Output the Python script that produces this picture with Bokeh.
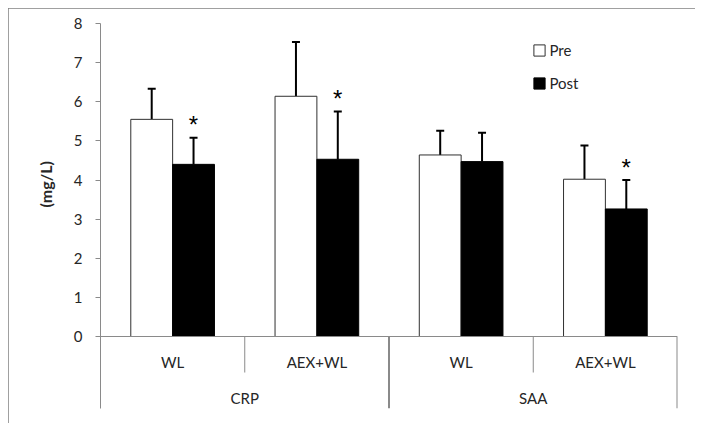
import math
from bokeh.plotting import figure
from bokeh.models import (FactorRange, Range1d, ColumnDataSource, Whisker, TeeHead,
                          Span, Legend, LegendItem, FixedTicker, Title)
from bokeh.transform import dodge
from bokeh.core.properties import value
from bokeh.embed import file_html
from bokeh.resources import INLINE

# ---- data ----
markers = ["CRP", "CRP", "SAA", "SAA"]
groups = ["WL", "AEX+WL", "WL", "AEX+WL"]
pre = [5.55, 6.14, 4.64, 4.02]
pre_sd = [0.78, 1.39, 0.62, 0.86]
post = [4.40, 4.53, 4.47, 3.26]
post_sd = [0.68, 1.22, 0.74, 0.74]
significant = [True, True, False, True]
y_ticks = [0, 1, 2, 3, 4, 5, 6, 7, 8]
y_label = "(mg/L)"
series_names = ["Pre", "Post"]

FONT = "Lato"
GRAY = "#8a8a8a"
TXT = "#262626"

cats = list(zip(markers, groups))
src = ColumnDataSource(dict(
    cat=cats, group=groups, pre=pre, post=post,
    pre_hi=[a + b for a, b in zip(pre, pre_sd)],
    post_hi=[a + b for a, b in zip(post, post_sd)],
))

y_lo = -1.84
p = figure(width=687, height=415,
           x_range=FactorRange(*cats, group_padding=0, factor_padding=0, range_padding=0),
           y_range=Range1d(y_lo, max(y_ticks)),
           output_backend="svg", toolbar_location=None,
           x_axis_location=None, min_border_left=92, min_border_right=18,
           min_border_top=15, min_border_bottom=15)
p.outline_line_color = None
p.xgrid.visible = False
p.ygrid.visible = False
p.styles = {"margin": "8px", "outline": "1px solid #808080", "outline-offset": "-1px"}

yax = p.yaxis[0]
yax.ticker = FixedTicker(ticks=y_ticks)
yax.major_tick_out = 5
yax.major_tick_in = 0
yax.minor_tick_line_color = None
yax.axis_line_color = GRAY
yax.major_tick_line_color = GRAY
yax.major_label_text_font = FONT
yax.major_label_text_font_size = "15px"
yax.major_label_text_color = TXT
yax.major_label_standoff = 13

BW = 0.29
OFF = 0.145
pre_r = p.vbar(x=dodge("cat", -OFF, range=p.x_range), top="pre", width=BW, bottom=0,
               source=src, fill_color="white", line_color="#303030", line_width=1)
post_r = p.vbar(x=dodge("cat", OFF, range=p.x_range), top="post", width=BW, bottom=0,
                source=src, fill_color="black", line_color="black", line_width=1)

for off, lo, hi in [(-OFF, "pre", "pre_hi"), (OFF, "post", "post_hi")]:
    w = Whisker(source=src, base=dodge("cat", off, range=p.x_range), lower=lo, upper=hi,
                dimension="height", line_color="black", line_width=2,
                lower_head=None,
                upper_head=TeeHead(size=8, line_color="black", line_width=2))
    p.add_layout(w)

# significance markers
sig_cats = [c for c, s in zip(cats, significant) if s]
sig_y = [a + b for a, b, s in zip(post, post_sd, significant) if s]
p.text(x=dodge("x", OFF, range=p.x_range), y="y", text=value("*"),
       source=ColumnDataSource(dict(x=sig_cats, y=sig_y)),
       text_font=value("Liberation Sans"), text_font_size="24px", text_color="black",
       text_align="center", text_baseline="alphabetic", y_offset=-13)

# category axis (two levels)
p.add_layout(Span(location=0, dimension="width", line_color=GRAY, line_width=1))
p.text(x="cat", y=0, text="group", source=src, text_font=value(FONT),
       text_font_size="15px", text_color=TXT, text_align="center",
       text_baseline="middle", y_offset=25)
tops = sorted(set(markers), key=markers.index)
p.text(x="x", y=0, text="x", source=ColumnDataSource(dict(x=tops)), text_font=value(FONT),
       text_font_size="15px", text_color=TXT, text_align="center",
       text_baseline="middle", y_offset=61)

inner = [c for i, c in enumerate(cats) if i + 1 < len(cats) and cats[i + 1][0] == c[0]]
outer = [c for i, c in enumerate(cats) if i + 1 == len(cats) or cats[i + 1][0] != c[0]]
p.segment(x0=dodge("x", 0.5, range=p.x_range), x1=dodge("x", 0.5, range=p.x_range),
          y0=0, y1=y_lo / 2, source=ColumnDataSource(dict(x=inner)),
          line_color=GRAY, line_width=1)
p.segment(x0=dodge("x", 0.5, range=p.x_range), x1=dodge("x", 0.5, range=p.x_range),
          y0=0, y1=y_lo, source=ColumnDataSource(dict(x=outer)),
          line_color=GRAY, line_width=2)

# y axis title
p.add_layout(Title(text=y_label, align="left", offset=201, standoff=32,
                   text_font=FONT, text_font_size="16px", text_font_style="bold",
                   text_color=TXT), "left")

legend = Legend(items=[LegendItem(label=series_names[0], renderers=[pre_r]),
                       LegendItem(label=series_names[1], renderers=[post_r])],
                location=(431.5, 315.5), orientation="vertical",
                glyph_width=14, glyph_height=14, label_standoff=4, spacing=13,
                label_height=20, padding=0, margin=0, border_line_color=None,
                background_fill_alpha=0, label_text_font=FONT,
                label_text_font_size="15px", label_text_color=TXT)
p.add_layout(legend)

open("out.html", "w").write(file_html(p, INLINE))
